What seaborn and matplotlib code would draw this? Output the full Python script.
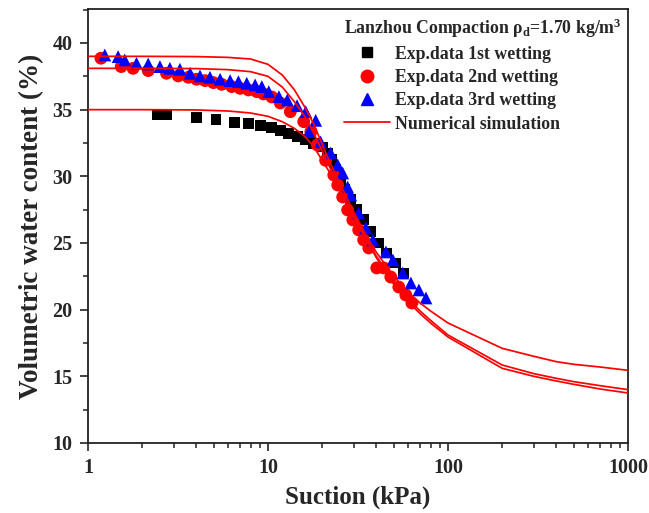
import numpy as np
import pandas as pd
import matplotlib
matplotlib.use("Agg")
import matplotlib.pyplot as plt
from matplotlib.lines import Line2D
from matplotlib.ticker import FixedLocator, LogLocator, NullFormatter
import seaborn as sns

# ---- experimental data: suction (kPa) vs volumetric water content (%) ----
wet1_suction = [2.43, 2.72, 4.03, 5.14, 6.51, 7.82, 9.09, 10.4, 11.7, 13.06, 14.5, 16.2, 18.0,
                20.1, 21.5, 22.6, 23.8, 25.3, 26.7, 28.8, 31.1, 34.0, 37.3, 41.3, 45.7, 51.3, 56.9]
wet1_theta = [34.66, 34.6, 34.43, 34.28, 34.06, 33.93, 33.78, 33.65, 33.43, 33.23, 32.98, 32.73, 32.43,
              32.2, 31.75, 31.23, 30.48, 29.73, 28.98, 28.23, 27.48, 26.73, 25.83, 25.0, 24.25, 23.5, 22.75]

wet2_suction = [1.18, 1.53, 1.78, 2.16, 2.73, 3.17, 3.61, 4.01, 4.47, 4.97, 5.53, 6.29, 7.0, 7.79, 8.66,
                9.43, 10.5, 11.7, 13.3, 15.8, 17.3, 18.8, 20.9, 23.2, 24.4, 26.0, 27.7, 29.6, 31.9,
                34.0, 36.3, 40.2, 44.0, 48.1, 53.3, 58.3, 63.0]
wet2_theta = [38.86, 38.23, 38.1, 37.93, 37.73, 37.53, 37.43, 37.28, 37.18, 37.03, 36.9, 36.73, 36.6, 36.48,
              36.35, 36.18, 35.95, 35.5, 34.85, 34.1, 33.35, 32.35, 31.2, 30.1, 29.35, 28.45, 27.48, 26.73,
              25.98, 25.23, 24.63, 23.13, 23.13, 22.45, 21.7, 21.1, 20.5]

wet3_suction = [1.24, 1.47, 1.6, 1.86, 2.16, 2.51, 2.85, 3.24, 3.69, 4.19, 4.76, 5.42, 6.16, 6.85, 7.62,
                8.48, 9.24, 10.1, 11.5, 12.8, 14.5, 16.2, 16.9, 18.4, 19.6, 22.3, 24.4, 26.0, 27.7, 28.8,
                31.9, 34.9, 38.2, 45.2, 49.4, 56.1, 62.2, 68.9, 75.4]
wet3_theta = [39.1, 38.98, 38.73, 38.48, 38.43, 38.23, 38.1, 38.03, 37.73, 37.53, 37.43, 37.28, 37.18, 37.1,
              36.98, 36.86, 36.73, 36.35, 35.98, 35.73, 35.3, 34.85, 33.35, 34.2, 32.58, 31.75, 30.86,
              30.25, 29.2, 28.6, 27.25, 26.13, 25.23, 24.33, 23.73, 22.75, 22.0, 21.48, 20.88]

# ---- numerical simulation curves ----
sim_suction = [1, 2, 4, 6, 8, 10, 12, 14, 16, 18, 20, 22, 25, 30, 35, 40, 50, 60, 70, 80,
               100, 200, 300, 400, 500, 700, 1000]
sim_a = [39.0, 39.0, 38.98, 38.92, 38.8, 38.4, 37.6, 36.5, 35.2, 33.9, 32.4, 31.1, 29.5, 27.3, 25.6,
         24.3, 22.5, 21.3, 20.5, 19.9, 19.0, 17.1, 16.5, 16.1, 15.9, 15.7, 15.45]
sim_b = [38.1, 38.1, 38.08, 38.0, 37.85, 37.5, 36.7, 35.6, 34.5, 33.2, 31.9, 30.7, 29.1, 27.0, 25.4,
         24.0, 22.1, 20.8, 19.9, 19.2, 18.1, 15.85, 15.2, 14.85, 14.6, 14.3, 14.0]
sim_c = [35.0, 35.0, 34.98, 34.9, 34.75, 34.5, 34.1, 33.6, 33.0, 32.2, 31.2, 30.3, 28.9, 26.9, 25.3,
         23.9, 21.9, 20.6, 19.7, 19.0, 17.95, 15.6, 15.0, 14.65, 14.4, 14.05, 13.75]

x_ticks = [1, 10, 100, 1000]
x_tick_labels = ["1", "10", "100", "1000"]
y_ticks = [10, 15, 20, 25, 30, 35, 40]

sns.set_theme(style="ticks")
plt.rcParams["font.family"] = ["Liberation Serif", "DejaVu Serif"]
plt.rcParams["font.weight"] = "bold"
plt.rcParams["mathtext.fontset"] = "custom"
plt.rcParams["mathtext.rm"] = "Liberation Serif:bold"
plt.rcParams["mathtext.it"] = "Liberation Serif:bold"
plt.rcParams["mathtext.bf"] = "Liberation Serif:bold"

fig = plt.figure(figsize=(6.49, 5.13), dpi=100)
ax = fig.add_axes([88 / 649, 1 - 443 / 513, (628 - 88) / 649, (443 - 9) / 513])

df1 = pd.DataFrame({"suction": wet1_suction, "theta": wet1_theta})
df2 = pd.DataFrame({"suction": wet2_suction, "theta": wet2_theta})
df3 = pd.DataFrame({"suction": wet3_suction, "theta": wet3_theta})

sns.scatterplot(data=df1, x="suction", y="theta", ax=ax, marker="s", s=62, color="black",
                edgecolor="none", linewidth=0, zorder=3)
sns.scatterplot(data=df2, x="suction", y="theta", ax=ax, marker="o", s=85, color="#ff0000",
                edgecolor="none", linewidth=0, zorder=3)
sns.scatterplot(data=df3, x="suction", y="theta", ax=ax, marker="^", s=85, color="#0000ff",
                edgecolor="none", linewidth=0, zorder=4)

for curve in (sim_a, sim_b, sim_c):
    sns.lineplot(x=sim_suction, y=curve, ax=ax, color="#ff0000", linewidth=1.25, zorder=5,
                 estimator=None, sort=False)

ax.set_xscale("log")
ax.set_xlim(1, 1000)
ax.set_ylim(10, 42.55)
ax.xaxis.set_major_locator(FixedLocator(x_ticks))
ax.set_xticklabels(x_tick_labels)
ax.xaxis.set_minor_locator(LogLocator(base=10, subs=np.arange(2, 10)))
ax.xaxis.set_minor_formatter(NullFormatter())
ax.yaxis.set_major_locator(FixedLocator(y_ticks))
ax.yaxis.set_minor_locator(FixedLocator([12.5, 17.5, 22.5, 27.5, 32.5, 37.5, 42.5]))

ax.tick_params(axis="both", which="major", direction="out", length=6, width=1.2,
               labelsize=14.5, color="#222222", pad=5)
ax.tick_params(axis="both", which="minor", direction="out", length=3.5, width=1.1, color="#222222")
for lab in ax.get_xticklabels() + ax.get_yticklabels():
    lab.set_fontweight("bold")
for sp in ax.spines.values():
    sp.set_visible(True)
    sp.set_linewidth(1.3)
    sp.set_color("#222222")

ax.set_xlabel("Suction (kPa)", fontsize=18, fontweight="bold", labelpad=5)
ax.set_ylabel("Volumetric water content (%)", fontsize=19.5, fontweight="bold", labelpad=6)

handles = [
    Line2D([], [], marker="s", color="black", linestyle="none", markersize=7.5),
    Line2D([], [], marker="o", color="#ff0000", linestyle="none", markersize=9),
    Line2D([], [], marker="^", color="#0000ff", linestyle="none", markersize=9),
    Line2D([], [], color="#ff0000", linewidth=1.25),
]
labels = ["Exp.data 1st wetting", "Exp.data 2nd wetting", "Exp.data 3rd wetting", "Numerical simulation"]
leg = ax.legend(handles, labels, loc="upper left", bbox_to_anchor=(0.461, 0.999), frameon=False,
                title=r"Lanzhou Compaction ρ$_\mathrm{d}$=1.70 kg/m$^\mathrm{3}$",
                prop={"weight": "bold", "size": 12.8}, handlelength=2.6, handletextpad=0.25,
                labelspacing=0.36, borderaxespad=0.0, alignment="left")
leg.get_title().set_fontsize(12.8)
leg.get_title().set_fontweight("bold")
leg._legend_box.sep = 4

fig.savefig("out.png", dpi=100)
